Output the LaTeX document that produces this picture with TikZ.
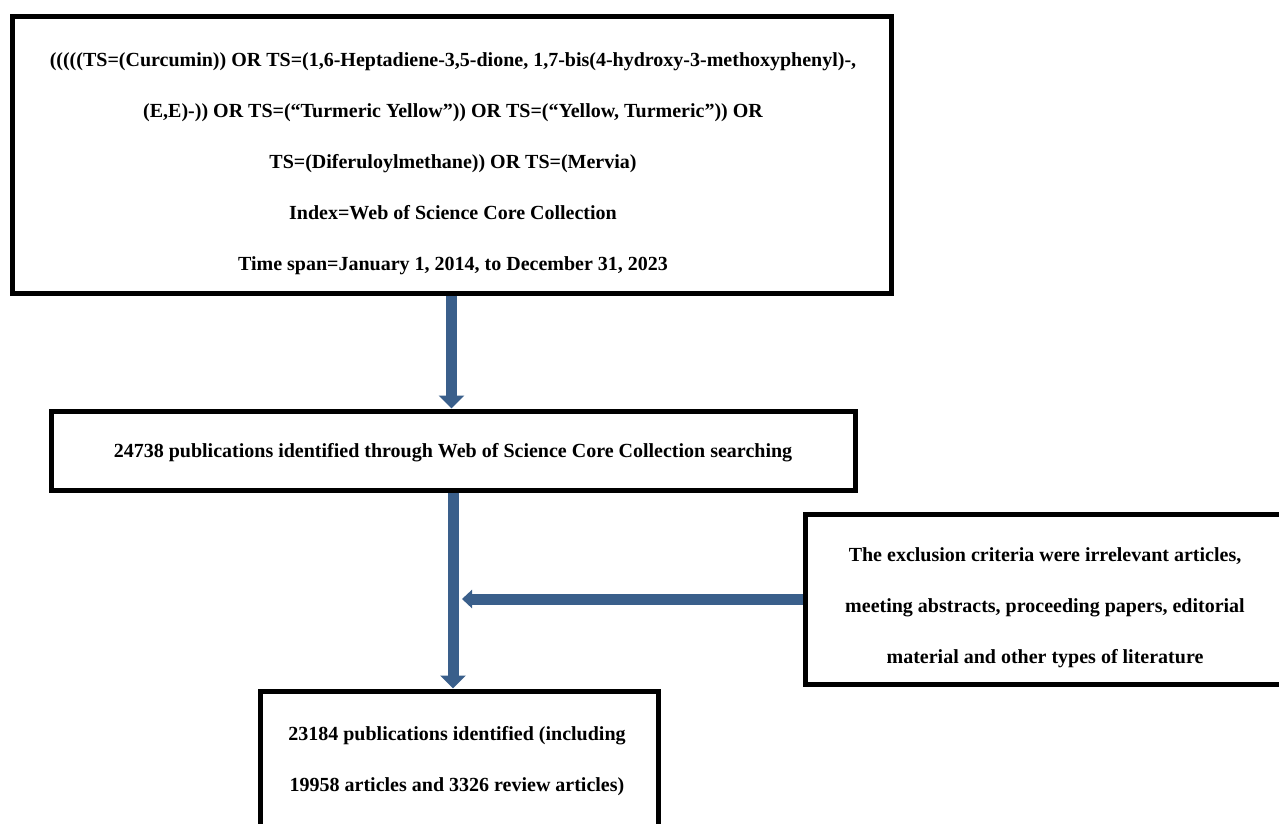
\documentclass[tikz,border=0pt]{standalone}
\usepackage{fontspec}
\setmainfont{Liberation Serif}
\usetikzlibrary{arrows.meta}
\definecolor{flowblue}{RGB}{58,95,139}

\begin{document}
\begin{tikzpicture}[
    x=1pt, y=-1pt,
    box/.style={draw, line width=5pt, rectangle, inner sep=0pt},
    boxtext/.style={inner sep=0pt, align=center, font=\bfseries\fontsize{20}{51}\selectfont},
    bigarrow/.style={draw=flowblue, line width=11pt, -{Triangle[width=25pt, length=13pt]}},
    sidearrow/.style={draw=flowblue, line width=11pt, -{Triangle[width=18pt, length=10pt]}}
  ]
    \useasboundingbox (0,0) rectangle (1279,823);
    \node[box, minimum width=879pt, minimum height=277pt] (query) at (451.5,154.5) {};
    \node[boxtext] (querytext) at (453,163.5)
      {(((((TS=(Curcumin)) OR TS=(1,6-Heptadiene-3,5-dione, 1,7-bis(4-hydroxy-3-methoxyphenyl)-,\\
       (E,E)-)) OR TS=(``Turmeric Yellow'')) OR TS=(``Yellow, Turmeric'')) OR\\
       TS=(Diferuloylmethane)) OR TS=(Mervia)\\
       Index=Web of Science Core Collection\\
       Time span=January 1, 2014, to December 31, 2023};
    \node[box, minimum width=804pt, minimum height=79pt] (found) at (453,450.5) {};
    \node[boxtext] (foundtext) at (453,452.5)
      {24738 publications identified through Web of Science Core Collection searching};
    \node[box, minimum width=477pt, minimum height=170pt] (excl) at (1043.5,599) {};
    \node[boxtext] (excltext) at (1045,607.5)
      {The exclusion criteria were irrelevant articles,\\
       meeting abstracts, proceeding papers, editorial\\
       material and other types of literature};
    \node[box, minimum width=398pt, minimum height=135pt] (final) at (459,758.5) {};
    \node[boxtext] (finaltext) at (457,761.5)
      {23184 publications identified (including\\
       19958 articles and 3326 review articles)};
    \coordinate (merge) at (462,599);
    \draw[bigarrow] (query.south) -- (query.south |- found.north);
    \draw[bigarrow] (found.south) -- (found.south |- final.north);
    \draw[sidearrow] (excl.west) -- (merge);
  \end{tikzpicture}
\end{document}
